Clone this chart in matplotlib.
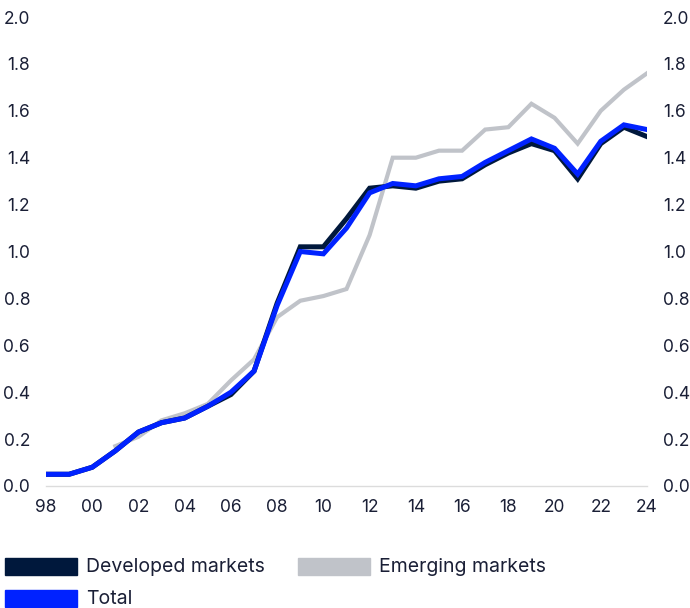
import matplotlib
matplotlib.use("Agg")
import matplotlib.pyplot as plt
from matplotlib.patches import Rectangle

plt.rcParams['font.family'] = ['Inter', 'DejaVu Sans']

years = list(range(1998, 2025))
tick_years = list(range(1998, 2025, 2))
tick_labels = [f"{y % 100:02d}" for y in tick_years]

total = [0.05, 0.05, 0.08, 0.15, 0.23, 0.27, 0.29, 0.34, 0.40, 0.49, 0.77, 1.00, 0.99,
         1.10, 1.25, 1.29, 1.28, 1.31, 1.32, 1.38, 1.43, 1.48, 1.44, 1.33, 1.47, 1.54, 1.52]
developed = [0.05, 0.05, 0.08, 0.15, 0.23, 0.27, 0.29, 0.34, 0.39, 0.49, 0.78, 1.02, 1.02,
             1.14, 1.27, 1.28, 1.27, 1.30, 1.31, 1.37, 1.42, 1.46, 1.43, 1.31, 1.46, 1.53, 1.49]
em_years = list(range(2001, 2025))
emerging = [0.17, 0.21, 0.28, 0.31, 0.35, 0.45, 0.54, 0.72, 0.79, 0.81, 0.84, 1.07,
            1.40, 1.40, 1.43, 1.43, 1.52, 1.53, 1.63, 1.57, 1.46, 1.60, 1.69, 1.76]

c_dev = '#00183c'
c_em = '#c0c3c9'
c_tot = '#0022ff'
c_txt = '#1a1f36'

W, H = 690, 608
fig = plt.figure(figsize=(W / 100, H / 100), dpi=100)
ax = fig.add_axes([46 / W, 1 - 486 / H, 601 / W, 469 / H])

ax.plot(em_years, emerging, color=c_em, lw=3.0, solid_joinstyle='miter', zorder=2)
ax.plot(years, developed, color=c_dev, lw=3.6, solid_joinstyle='miter', zorder=3)
ax.plot(years, total, color=c_tot, lw=3.6, solid_joinstyle='miter', zorder=4)

ax.set_xlim(1998, 2024)
ax.set_ylim(0, 2.0)
ax.set_xticks(tick_years)
ax.set_xticklabels(tick_labels)
yt = [i / 10 for i in range(0, 21, 2)]
ax.set_yticks(yt)
ax.set_yticklabels([f"{v:.1f}" for v in yt])
ax.tick_params(axis='both', length=0, labelsize=12.5, colors=c_txt)
ax.tick_params(axis='x', pad=9)
ax.tick_params(axis='y', pad=11.5, labelright=True)
for s in ['top', 'left', 'right']:
    ax.spines[s].set_visible(False)
ax.spines['bottom'].set_color('#dcdcdc')
ax.spines['bottom'].set_linewidth(1.0)

# legend drawn by hand: (colour, label, left px, top px of swatch)
legend_items = [(c_dev, 'Developed markets', 5, 558),
                (c_em, 'Emerging markets', 298, 558),
                (c_tot, 'Total', 5, 590)]
for col, lab, x0, y0 in legend_items:
    fig.patches.append(Rectangle((x0 / W, 1 - (y0 + 17) / H), 72 / W, 17 / H,
                                 transform=fig.transFigure, color=col))
    fig.text((x0 + 81) / W, 1 - (y0 + 8.5) / H, lab, fontsize=14, color=c_txt,
             va='center', ha='left')

fig.savefig('out.png', dpi=100)
